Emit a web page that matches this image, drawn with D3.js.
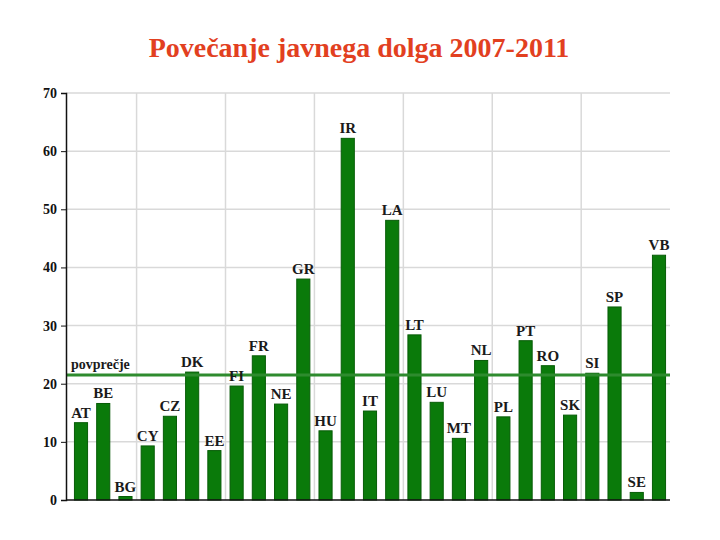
<!DOCTYPE html>
<html><head><meta charset="utf-8">
<script src="https://cdn.jsdelivr.net/npm/d3@7/dist/d3.min.js"></script>
<style>body{margin:0;background:#fff} text{font-family:'Liberation Serif','Times New Roman',serif;font-weight:bold}</style>
</head><body>
<svg id="c" width="720" height="540"></svg>
<script>
const categories = ["AT","BE","BG","CY","CZ","DK","EE","FI","FR","NE","GR","HU","IR","IT","LA","LT","LU","MT","NL","PL","PT","RO","SK","SI","SP","SE","VB"];
const values = [13.3,16.6,0.6,9.3,14.4,22.0,8.5,19.6,24.8,16.5,38.0,11.9,62.2,15.3,48.1,28.4,16.8,10.6,24.0,14.3,27.4,23.1,14.6,21.8,33.2,1.3,42.1];
const average = 21.5;
const averageLabel = "povprečje";
const yTicks = [0,10,20,30,40,50,60,70];
const title = "Povečanje javnega dolga 2007-2011";

const svg = d3.select("#c");
const axisX = 66, plotL = 70, plotR = 670, plotT = 93, plotB = 500;
const x = d3.scaleBand().domain(categories).range([plotL, plotR]).paddingInner(0.41).paddingOuter(0.2);
const y = d3.scaleLinear().domain([0,70]).range([plotB, plotT]);
const serif = "'Liberation Serif', 'Times New Roman', serif";

svg.append("text").attr("x",359).attr("y",57).attr("text-anchor","middle")
  .attr("font-family",serif).attr("font-weight","bold")
  .attr("font-size",28).attr("fill","#e2401f").text(title);

// horizontal grid
svg.append("g").selectAll("line").data(yTicks.filter(d=>d>0)).join("line")
  .attr("x1",axisX).attr("x2",plotR).attr("y1",d=>y(d)).attr("y2",d=>y(d))
  .attr("stroke","#d9d9d9").attr("stroke-width",1.5);
// vertical grid every 4 bands
const step = x.step();
const vIdx = [3,7,11,15,19,23];
const gx = d => x(categories[d]) - step*x.paddingInner()/2;
svg.append("g").selectAll("line").data(vIdx).join("line")
  .attr("x1",gx).attr("x2",gx)
  .attr("y1",plotT).attr("y2",plotB).attr("stroke","#d9d9d9").attr("stroke-width",1.5);

// bars
svg.append("g").selectAll("rect").data(values).join("rect")
  .attr("x",(d,i)=>x(categories[i])).attr("width",x.bandwidth())
  .attr("y",d=>y(d)).attr("height",d=>plotB-y(d))
  .attr("fill","#0a7a0a").attr("stroke","#075c07").attr("stroke-width",1);

// average line
svg.append("line").attr("x1",axisX).attr("x2",plotR).attr("y1",y(average)).attr("y2",y(average))
  .attr("stroke","#2e8b2e").attr("stroke-width",3);
svg.append("text").attr("x",71).attr("y",y(average)-6)
  .attr("font-family",serif).attr("font-weight","bold")
  .attr("font-size",14).attr("fill","#1a1a1a").text(averageLabel);

// bar labels
svg.append("g").selectAll("text").data(values).join("text")
  .attr("x",(d,i)=>x(categories[i])+x.bandwidth()/2).attr("y",d=>y(d)-5)
  .attr("text-anchor","middle")
  .attr("font-family",serif).attr("font-weight","bold")
  .attr("font-size",15).attr("fill","#1a1a1a").text((d,i)=>categories[i]);

// axes
const yAxis = d3.axisLeft(y).tickValues(yTicks).tickSize(5).tickPadding(4);
const ga = svg.append("g").attr("transform",`translate(${axisX},0)`).call(yAxis);
ga.attr("font-family",null);
ga.select(".domain").attr("stroke","#111").attr("stroke-width",1.5);
ga.selectAll(".tick line").attr("stroke","#111");
ga.selectAll("text").attr("font-family",serif)
  .attr("font-weight","bold").attr("font-size",14).attr("fill","#111");
svg.append("line").attr("x1",axisX).attr("x2",plotR).attr("y1",plotB).attr("y2",plotB)
  .attr("stroke","#111").attr("stroke-width",1.5);
</script>
</body></html>
